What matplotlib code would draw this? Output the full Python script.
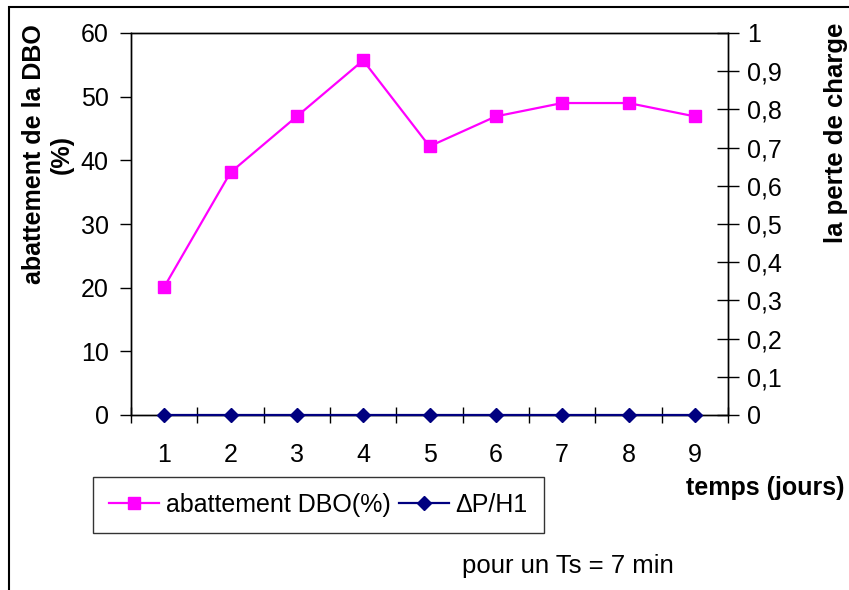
import matplotlib.pyplot as plt
from matplotlib.patches import Rectangle

plt.rcParams['font.family'] = ['Liberation Sans', 'DejaVu Sans']

# données
jours = [1, 2, 3, 4, 5, 6, 7, 8, 9]
abattement = [20.1, 38.1, 46.9, 55.7, 42.2, 46.9, 49.0, 49.0, 46.9]
delta_p = [0, 0, 0, 0, 0, 0, 0, 0, 0]
yticks_droite = [0, 0.1, 0.2, 0.3, 0.4, 0.5, 0.6, 0.7, 0.8, 0.9, 1]
yticklabels_droite = ['0', '0,1', '0,2', '0,3', '0,4', '0,5', '0,6', '0,7', '0,8', '0,9', '1']

fs = 18

fig = plt.figure(figsize=(8.49, 5.90), dpi=100)
ax = fig.add_axes([131/849, 1 - 415/590, (728-131)/849, (415-33)/590])
ax2 = ax.twinx()

l1, = ax.plot(jours, abattement, color='#ff00ff', marker='s', markersize=8.5, linewidth=1.6)
l2, = ax2.plot(jours, delta_p, color='#000080', marker='D', markersize=7, linewidth=1.6,
               clip_on=False, zorder=5)

ax.set_xlim(0.5, 9.5)
ax.set_ylim(0, 60)
ax.set_yticks(range(0, 61, 10))
ax2.set_ylim(0, 1)
ax2.set_yticks(yticks_droite)
ax2.set_yticklabels(yticklabels_droite)

ax.set_xticks(jours)
ax.set_xticks([x + 0.5 for x in range(0, 10)], minor=True)
ax.tick_params(axis='x', which='major', length=0, pad=20, labelsize=fs)
ax.tick_params(axis='x', which='minor', direction='inout', length=12, width=1)
ax.tick_params(axis='y', direction='out', length=8, width=1, labelsize=fs, pad=8)
ax2.tick_params(axis='y', direction='inout', length=16, width=1, labelsize=fs, pad=6)

for a in (ax, ax2):
    for s in a.spines.values():
        s.set_linewidth(1)
        s.set_color('black')

fig.text(48/849, 1 - 154/590, 'abattement de la DBO\n(%)', fontsize=fs, fontweight='bold',
         rotation=90, ha='center', va='center', multialignment='center', linespacing=1.2)
fig.text(836/849, 1 - 133/590, 'la perte de charge', fontsize=18.5, fontweight='bold',
         rotation=90, ha='center', va='center')

fig.text(686/849, 1 - 488/590, 'temps (jours)', fontsize=fs, fontweight='bold', va='center')
fig.text(462/849, 1 - 566/590, 'pour un Ts = 7 min', fontsize=18.5, va='center')

leg = fig.legend([l1, l2], ['abattement DBO(%)', '\u0394P/H1'], loc='lower left',
                 bbox_to_anchor=(93/849, 1 - 533/590), ncol=2, fontsize=fs, frameon=True,
                 fancybox=False, edgecolor='black', borderpad=0.65, handlelength=2.0,
                 columnspacing=0.35, handletextpad=0.25, borderaxespad=0)
leg.get_frame().set_linewidth(1)

fig.patches.append(Rectangle((9/849, -0.1), 1.2, 1.1 - 7/590, transform=fig.transFigure,
                             fill=False, edgecolor='black', linewidth=1.5))

fig.savefig('out.png', dpi=100)
